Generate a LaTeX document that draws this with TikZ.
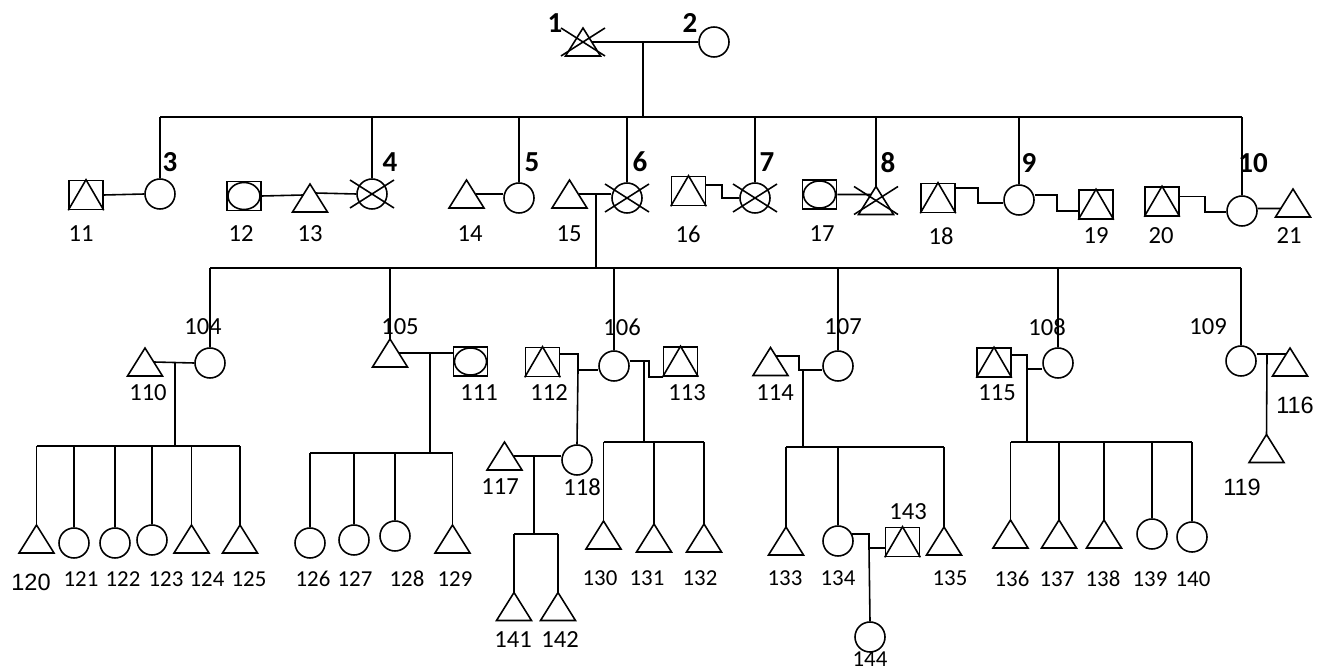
\documentclass[tikz,border=0pt]{standalone}
\usepackage{fontspec}
\setmainfont{Carlito}
\newfontfamily\arialfont{Liberation Sans}
\usetikzlibrary{positioning}

\begin{document}
\begin{tikzpicture}[
  x=0.02cm, y=-0.02cm, line width=0.9pt,
  fem/.style={circle, draw, minimum size=0.6cm, inner sep=0pt},
  tri/.style={rectangle, minimum width=0.7cm, minimum height=0.56cm, inner sep=0pt, outer sep=0pt},
  sqtri/.style={rectangle, draw, minimum width=0.68cm, minimum height=0.58cm, inner sep=0pt},
  sqcirc/.style={sqtri},
  num/.style={inner sep=0pt, font=\fontsize{14}{16}\selectfont},
  numsmall/.style={inner sep=0pt, font=\fontsize{13}{15}\selectfont},
  numarial/.style={inner sep=0pt, font=\arialfont\fontsize{13.4}{15}\selectfont},
  idx/.style={inner sep=0pt, font=\bfseries\fontsize{16.5}{18}\selectfont}
]
  \useasboundingbox (0,0) rectangle (1317,672);

  % persons
  \foreach \n/\x/\y in {2/714/42, 3/160/194, 4/372/194, 5/519/198, 6/627/198, 7/755/198,
      9/1019/200, 10/1242/211, 104/210/363, 106/614/366, 107/838/366, 108/1058/363,
      109/1241/361, 118/577/460, 121/74/543, 122/115/543, 123/152/540, 126/310/543,
      127/354/540, 128/395/536, 134/838/541, 139/1152/534, 140/1192/537, 144/870/637}
    \node[fem] (p\n) at (\x,\y) {};
  \foreach \n/\x/\y in {1/583/42, 8/876/200.5, 13/310/198, 14/466.5/194, 15/569.5/194,
      21/1293/203, 105/390/353, 110/145/362, 114/770.5/361.5, 116/1290/362, 117/504.5/456,
      119/1266.5/448.5, 120/36.5/539, 124/191.5/539, 125/240/539, 129/452.5/539,
      130/603.5/535, 131/654/538, 132/704/538, 133/786/541, 135/944/541, 136/1010.5/534,
      137/1059/534, 138/1104/534, 141/514/606.5, 142/558/606.5} {
    \node[tri] (p\n) at (\x,\y) {};
    \draw (p\n.south west) -- (p\n.north) -- (p\n.south east) -- cycle;
  }
  \foreach \n/\x/\y in {11/86/195, 16/688.5/191, 18/938/198, 19/1096/204.5, 20/1162/201.5,
      112/542.5/362, 113/680.5/361.5, 115/994/362.5, 143/902.5/542} {
    \node[sqtri] (p\n) at (\x,\y) {};
    \draw (p\n.south west) -- (p\n.north) -- (p\n.south east);
  }
  \foreach \n/\x/\y in {12/244/196, 17/819.5/194.5, 111/470.5/361.5} {
    \node[sqcirc] (p\n) at (\x,\y) {};
    \draw (p\n.center) ellipse [x radius=0.32cm, y radius=0.27cm];
  }
  % deceased
  \foreach \n in {1,4,6,7,8} {
    \draw ([shift={(-22,-14)}]p\n.center) -- ([shift={(22,14)}]p\n.center);
    \draw ([shift={(-22,14)}]p\n.center) -- ([shift={(22,-14)}]p\n.center);
  }

  % junctions
  \coordinate (m1) at (643,42);    \coordinate (s1) at (643,117);
  \coordinate (m15) at (596,194);  \coordinate (s2) at (596,268);
  \coordinate (m104) at (175,362); \coordinate (s104) at (175,446);
  \coordinate (m105) at (430,353); \coordinate (s105) at (430,453);
  \coordinate (m106) at (578,370);
  \coordinate (m118) at (534,456); \coordinate (s118) at (534,534);
  \coordinate (k113) at (649,361);
  \coordinate (m113) at (644,361); \coordinate (s113) at (644,442);
  \coordinate (k107) at (799,370);
  \coordinate (m107) at (803,370); \coordinate (s107) at (803,447);
  \coordinate (m108) at (1027,369); \coordinate (s108) at (1027,442);
  \coordinate (m109) at (1267,354);
  \coordinate (m134) at (869,548);
  \coordinate (k7) at (722,198);
  \coordinate (k9) at (978,203);
  \coordinate (k19) at (1057,211);
  \coordinate (k10) at (1205,212);

  % couples
  \draw ([xshift=0.18cm]p1.center) -- (p2.west);
  \draw (p11.east) -- (p3.west);
  \draw (p12.east) -- ([xshift=-0.14cm, yshift=0.06cm]p13.center);
  \draw ([xshift=0.11cm, yshift=0.1cm]p13.center) -- (p4.west);
  \draw ([xshift=0.18cm]p14.center) -- (p14.center -| p5.west);
  \draw ([xshift=0.18cm]p15.center) -- (p15.center -| p6.west);
  \draw ([yshift=0.12cm]p16.east) -| (k7) -- (p7.west);
  \draw (p17.east) -- ([xshift=-0.09cm, yshift=0.12cm]p8.center);
  \draw ([yshift=0.2cm]p18.east) -| (k9) -- (k9 -| p9.west);
  \draw ([yshift=0.1cm]p9.east) -| (k19) -- (p19.west |- k19);
  \draw ([yshift=0.1cm]p20.east) -| (k10) -- (k10 -| p10.west);
  \draw ([yshift=0.05cm]p10.east) -- ([xshift=-0.24cm, yshift=-0.11cm]p21.center);
  \draw ([xshift=0.18cm]p110.center) -- (p104.west);
  \draw ([xshift=0.18cm]p105.center) -- (p105.center -| p111.west);
  \draw ([yshift=0.16cm]p112.east) -| (m106) -- (m106 -| p106.west);
  \draw (k113 -| p106.east) -- (k113) |- (p113.south west);
  \draw ([xshift=0.11cm, yshift=0.11cm]p114.center) -| (k107) -- (k107 -| p107.west);
  \draw ([yshift=0.15cm]p115.east) -| (m108) -- (m108 -| p108.west);
  \draw ([yshift=0.14cm]p109.east) -- ([xshift=-0.075cm, yshift=0.16cm]p116.center);
  \draw ([xshift=0.18cm]p117.center) -- (p117.center -| p118.west);
  \draw ([xshift=-0.04cm, yshift=0.14cm]p134.east) -| (m134) -- (p143.west |- m134);

  % descent
  \foreach \m/\s in {m1/s1, m15/s2, m104/s104, m105/s105, m118/s118, m113/s113, m107/s107, m108/s108}
    \draw (\m) -- (\s);
  \draw (m106) -- (p118.north);
  \draw (m109) -- (p119.north);
  \draw (m134) -- (p144.north);
  \foreach \s/\a/\b in {s1/p3/p10, s2/p104/p109, s104/p120/p125, s105/p126/p129,
      s118/p141/p142, s113/p130/p132, s107/p133/p135, s108/p136/p140}
    \draw (\a.north |- \s) -- (\b.north |- \s);
  \foreach \s/\kids in {s1/{p3,p4,p5,p6,p7,p8,p9,p10}, s2/{p104,p105,p106,p107,p108,p109},
      s104/{p120,p121,p122,p123,p124,p125}, s105/{p126,p127,p128,p129}, s118/{p141,p142},
      s113/{p130,p131,p132}, s107/{p133,p134,p135}, s108/{p136,p137,p138,p139,p140}}
    \foreach \k in \kids
      \draw (\k.north |- \s) -- (\k.north);

  % labels
  \foreach \t/\x/\y in {1/555/23, 2/690/23, 3/170/162, 4/390/162, 5/532/162, 6/640/162,
      7/767/162, 8/888/163, 9/1029/163, 10/1253/163}
    \node[idx] (i\t) at (\x,\y) {\t};
  \foreach \t/\x/\y in {11/81/234, 12/241/234, 13/310/234, 14/470/234, 15/569/234,
      16/688/234, 17/822/234, 18/941/236, 19/1096/236, 20/1161/236, 21/1289/236,
      104/203/327, 105/400/327, 106/622/327, 107/843/327, 108/1047/327, 109/1208/327,
      110/148/393, 111/479/393, 112/549/393, 113/687/393, 114/775/393, 115/997/393,
      117/500/487, 118/582/487, 143/908/512, 141/513/640, 142/560/640}
    \node[num] (n\t) at (\x,\y) {\t};
  \foreach \t/\x/\y in {116/1295/405, 119/1242/487, 120/31/582}
    \node[numarial] (n\t) at (\x,\y) {\t};
  \foreach \t/\x/\y in {121/81/579, 122/123/579, 123/166/579, 124/207/579, 125/249/579,
      126/313/579, 127/355/579, 128/407/579, 129/455/579, 130/600/578, 131/647/578,
      132/700/578, 133/785/578, 134/838/578, 135/950/578, 136/1012/579, 137/1057/579,
      138/1103/579, 139/1150/579, 140/1193/579, 144/870/659}
    \node[numsmall] (n\t) at (\x,\y) {\t};
\end{tikzpicture}
\end{document}
